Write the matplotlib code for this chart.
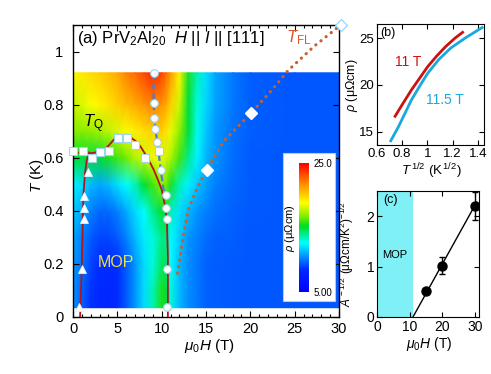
import numpy as np
import matplotlib
matplotlib.use('Agg')
import matplotlib.pyplot as plt
from matplotlib.colors import LinearSegmentedColormap
from matplotlib.patches import Rectangle

plt.rcParams['font.family'] = ['Liberation Sans', 'DejaVu Sans']
plt.rcParams['mathtext.fontset'] = 'custom'
plt.rcParams['mathtext.rm'] = 'Liberation Sans'
plt.rcParams['mathtext.it'] = 'Liberation Sans:italic'
plt.rcParams['mathtext.bf'] = 'Liberation Sans:bold'

# ---------------- data: panel (a) -----------------
field_grid = [0, 1, 2, 3, 4, 5, 6, 7, 8, 9, 10, 10.5, 11, 12, 13, 14, 15, 16, 18, 20, 25, 30]
temp_grid = [0.035, 0.1, 0.2, 0.3, 0.4, 0.5, 0.6, 0.7, 0.8, 0.92]
rho_grid = [
    [10.6, 9.6, 8.6, 8.3, 8.3, 8.5, 9.4, 10.6, 11.9, 13.5, 15.5, 15.0, 13.0, 11.3, 10.4, 10.0, 9.6, 9.5, 9.4, 9.3, 9.3, 9.3],
    [10.6, 9.6, 8.6, 8.3, 8.3, 8.5, 9.4, 10.6, 11.9, 13.5, 15.5, 15.0, 13.0, 11.3, 10.4, 10.0, 9.6, 9.5, 9.4, 9.3, 9.3, 9.3],
    [10.6, 10.0, 9.0, 8.5, 8.5, 8.5, 9.4, 10.6, 11.9, 13.0, 14.5, 14.5, 12.6, 11.3, 10.4, 10.0, 9.6, 9.5, 9.4, 9.3, 9.3, 9.3],
    [11.0, 10.2, 9.4, 9.0, 9.0, 9.4, 10.2, 11.3, 12.2, 13.0, 14.0, 14.0, 12.6, 11.6, 10.6, 10.2, 9.8, 9.6, 9.5, 9.3, 9.3, 9.3],
    [11.6, 11.0, 10.2, 9.7, 9.7, 10.2, 11.0, 11.9, 12.6, 14.0, 15.0, 15.0, 13.5, 12.0, 11.3, 10.6, 10.2, 9.9, 9.6, 9.4, 9.3, 9.3],
    [12.4, 12.0, 11.3, 11.0, 11.3, 12.0, 12.6, 13.5, 15.0, 16.0, 17.0, 16.5, 15.5, 13.5, 12.4, 11.5, 10.8, 10.2, 9.7, 9.4, 9.3, 9.3],
    [15.0, 15.0, 15.0, 15.0, 15.5, 16.0, 16.5, 17.5, 18.0, 18.5, 18.5, 18.0, 17.5, 16.0, 14.0, 12.4, 11.2, 10.6, 9.8, 9.4, 9.3, 9.3],
    [16.8, 16.8, 17.0, 17.3, 17.7, 18.2, 18.7, 19.2, 19.6, 20.0, 20.0, 19.5, 18.5, 17.0, 15.0, 12.8, 11.5, 10.7, 9.9, 9.5, 9.3, 9.3],
    [17.8, 18.2, 18.7, 19.1, 19.5, 20.0, 20.5, 21.0, 21.5, 22.0, 21.5, 21.0, 20.0, 18.0, 15.0, 13.0, 11.8, 10.9, 10.0, 9.5, 9.3, 9.3],
    [19.0, 19.3, 19.7, 20.0, 20.5, 21.0, 22.0, 22.5, 23.3, 24.0, 23.5, 22.5, 21.5, 19.0, 15.5, 13.5, 12.0, 11.0, 10.0, 9.5, 9.3, 9.3],
]

# phase boundary (red line), upper/right branch
bound_H = [0, 1, 2, 3, 3.5, 4.0, 4.6, 5.0, 5.5, 6.0, 6.6, 7.1, 7.6, 8.4, 9.1, 9.6, 10.0, 10.4, 10.6, 10.7, 10.7]
bound_T = [0.62, 0.617, 0.617, 0.622, 0.63, 0.645, 0.668, 0.678, 0.683, 0.681, 0.674, 0.662, 0.643, 0.60, 0.555, 0.515, 0.48, 0.416, 0.354, 0.227, 0.0]
# phase boundary, left branch
left_H = [1.8, 1.55, 1.36, 1.17, 1.1, 0.98, 0.8]
left_T = [0.62, 0.59, 0.543, 0.46, 0.354, 0.177, 0.0]

# squares (T_Q)
sq_H = [0.0, 1.1, 2.1, 3.1, 4.1, 5.1, 6.1, 7.0, 8.1, 9.65]
sq_T = [0.626, 0.626, 0.60, 0.62, 0.626, 0.674, 0.674, 0.649, 0.60, 0.624]
# circles
circ_H = [9.1, 9.1, 9.16, 9.3, 9.5, 9.9, 10.45, 10.5, 10.6, 10.55, 10.6]
circ_T = [0.92, 0.806, 0.75, 0.708, 0.66, 0.552, 0.458, 0.41, 0.369, 0.18, 0.037]
# blue dashed crossover line
dash_H = [9.1, 9.1, 9.16, 9.3, 9.5, 9.65, 9.9, 10.3]
dash_T = [0.92, 0.806, 0.75, 0.708, 0.66, 0.624, 0.552, 0.46]
# triangles
tri_H = [1.7, 1.25, 1.25, 1.25, 0.98, 0.72]
tri_T = [0.548, 0.457, 0.41, 0.37, 0.18, 0.037]
# T_FL dotted line
tfl_H = [11.8, 12.1, 12.5, 13.0, 14.0, 15.1, 17.0, 20.1, 22.3, 24.3, 27.2, 30.2]
tfl_T = [0.165, 0.228, 0.316, 0.404, 0.486, 0.555, 0.662, 0.769, 0.85, 0.93, 1.02, 1.10]
# diamonds
dia_H = [15.1, 20.1]
dia_T = [0.555, 0.769]
dia_open_H = [30.2]
dia_open_T = [1.10]

# ---------------- data: panel (b) -----------------
b11_x = [0.738, 0.80, 0.873, 0.94, 1.003, 1.075, 1.146, 1.22, 1.289]
b11_y = [16.54, 17.9, 19.46, 20.75, 21.96, 23.1, 24.1, 25.0, 25.7]
b115_x = [0.704, 0.77, 0.873, 0.94, 1.003, 1.09, 1.185, 1.30, 1.445]
b115_y = [13.92, 15.53, 18.39, 19.9, 21.25, 22.7, 23.93, 25.0, 26.2]

# ---------------- data: panel (c) -----------------
c_H = [15, 20, 30]
c_A = [0.52, 1.02, 2.2]
c_err = [0.04, 0.17, 0.28]
fit_H = [11.0, 30.5]
fit_A = [0.0, 2.28]
mop_edge = 11.0

# ---------------- figure -----------------
W, Hh = 491, 374
fig = plt.figure(figsize=(W / 100, Hh / 100), dpi=100)

def box(l, t, r, b):
    return [l / W, (Hh - b) / Hh, (r - l) / W, (b - t) / Hh]

cmap = LinearSegmentedColormap.from_list('rb', [
    (0.0, '#0000ff'), (0.17, '#0028ff'), (0.27, '#008cff'), (0.38, '#00ffff'),
    (0.51, '#00dc28'), (0.58, '#78eb00'), (0.69, '#ffff00'), (0.84, '#ff8c00'),
    (1.0, '#ff0000')])

ax = fig.add_axes(box(73, 25, 339, 317))
mesh = ax.pcolormesh(field_grid, temp_grid, np.array(rho_grid), cmap=cmap,
                     vmin=5, vmax=25, shading='gouraud', zorder=0)
ax.set_xlim(0, 30)
ax.set_ylim(0, 1.1)
ax.set_xticks([0, 5, 10, 15, 20, 25, 30])
ax.set_xticks(np.arange(0, 31, 1), minor=True)
ax.set_yticks([0, 0.2, 0.4, 0.6, 0.8, 1.0])
ax.set_yticklabels(['0', '0.2', '0.4', '0.6', '0.8', '1'])
ax.tick_params(which='both', direction='in', top=True, right=True, width=0.8, labelsize=10.5)
ax.tick_params(which='major', length=4)
ax.tick_params(which='minor', length=2)
ax.tick_params(axis='y', pad=7)
for s in ax.spines.values():
    s.set_linewidth(1.0)

ax.plot(tfl_H, tfl_T, color='#c8602a', lw=2.3, linestyle=(0, (0.05, 2.0)),
        dash_capstyle='round', zorder=3, clip_on=False)
ax.plot(dash_H, dash_T, color='#4a7fcf', lw=1.6, dashes=(3, 1.6), zorder=3)
ax.plot(bound_H, bound_T, color='#b3151b', lw=1.3, zorder=4)
ax.plot(left_H, left_T, color='#b3151b', lw=1.3, zorder=4)
ax.plot(sq_H, sq_T, 's', ms=6, mfc='white', mec='#9fd3ee', mew=0.8, zorder=5, clip_on=False)
ax.plot(circ_H, circ_T, 'o', ms=5.5, mfc='white', mec='#9fd3ee', mew=0.8, zorder=5)
ax.plot(tri_H, tri_T, '^', ms=5.5, mfc='white', mec='#e0f4ff', mew=0.6, zorder=5)
ax.plot(dia_H, dia_T, 'D', ms=6, mfc='white', mec='white', zorder=5)
ax.plot(dia_open_H, dia_open_T, 'D', ms=6, mfc='white', mec='#8fd0f5', mew=0.8,
        zorder=6, clip_on=False)

ax.text(0.015, 0.955, r'(a) PrV$_2$Al$_{20}$  $H$ || $I$ || [111]', transform=ax.transAxes,
        fontsize=12, va='center', ha='left')
ax.text(24.0, 1.035, r'$T_{\rm FL}$', color='#e05530', fontsize=12, ha='left', va='baseline')
ax.text(1.1, 0.713, r'$T_{\rm Q}$', color='black', fontsize=12, ha='left', va='baseline')
ax.text(4.8, 0.206, 'MOP', color='#f2e23a', fontsize=11.5, ha='center', va='center')

ax.add_patch(Rectangle(((283 - 73) / 266, (317 - 301) / 292), (335 - 283) / 266, (301 - 153) / 292,
                       transform=ax.transAxes, facecolor='white', edgecolor='#c8c8c8',
                       lw=0.8, zorder=7))
cax = fig.add_axes(box(299, 163, 309, 292))
cb = fig.colorbar(mesh, cax=cax, ticks=[5, 25])
cb.outline.set_visible(False)
cax.set_yticklabels(['5.00', '25.0'])
cax.tick_params(length=0, labelsize=7, pad=3)
fig.text(290 / W, 1 - 228 / Hh, r'$\rho$ (μΩcm)', rotation=90, fontsize=8, ha='center', va='center')

fig.text(37 / W, 1 - 176 / Hh, r'$T$ (K)', rotation=90, fontsize=11, ha='center', va='center')
fig.text(209 / W, 1 - 346 / Hh, r'$\mu_0H$ (T)', fontsize=11, ha='center', va='center')

# ---------------- panel (b) -----------------
axb = fig.add_axes(box(377, 24, 484, 145))
axb.plot(b11_x, b11_y, color='#cc1111', lw=2.0, solid_capstyle='butt')
axb.plot(b115_x, b115_y, color='#1aa8e0', lw=2.0, solid_capstyle='butt')
axb.set_xlim(0.6, 1.45)
axb.set_ylim(13.6, 26.5)
axb.set_xticks([0.6, 0.8, 1.0, 1.2, 1.4])
axb.set_xticklabels(['0.6', '0.8', '1', '1.2', '1.4'])
axb.set_yticks([15, 20, 25])
axb.tick_params(direction='in', top=True, right=True, length=3.5, width=0.8, labelsize=9.5)
axb.tick_params(axis='y', pad=2)
axb.tick_params(axis='x', pad=2.5)
axb.text(0.03, 0.925, '(b)', transform=axb.transAxes, fontsize=9, va='center', ha='left')
axb.text(0.29, 0.686, '11 T', transform=axb.transAxes, color='#cc1111', fontsize=10,
         ha='center', va='center')
axb.text(0.636, 0.372, '11.5 T', transform=axb.transAxes, color='#1aa8e0', fontsize=10,
         ha='center', va='center')
fig.text(431 / W, 1 - 171 / Hh, r'$T^{\,1/2}$ (K$^{\,1/2}$)', fontsize=9.5, ha='center', va='center')
fig.text(352 / W, 1 - 85 / Hh, r'$\rho$ (μΩcm)', rotation=90, fontsize=9, ha='center', va='center')

# ---------------- panel (c) -----------------
axc = fig.add_axes(box(377, 191, 479, 317))
axc.axvspan(0, mop_edge, color='#7ff0f5', lw=0, zorder=0)
axc.plot(fit_H, fit_A, color='black', lw=1.0, zorder=2)
axc.errorbar(c_H, c_A, yerr=c_err, fmt='o', ms=6.5, color='black', ecolor='black',
             elinewidth=1.0, capsize=2, zorder=3, clip_on=True)
axc.set_xlim(0, 31.2)
axc.set_ylim(0, 2.5)
axc.set_xticks([0, 10, 20, 30])
axc.set_yticks([0, 1, 2])
axc.tick_params(direction='in', top=True, right=True, length=3.5, width=0.8, labelsize=10)
axc.tick_params(axis='y', pad=2)
axc.tick_params(axis='x', pad=2)
axc.text(0.06, 0.93, '(c)', transform=axc.transAxes, fontsize=9, va='center', ha='left')
axc.text(5.3, 1.23, 'MOP', fontsize=8, ha='center', va='center')
fig.text(429 / W, 1 - 344 / Hh, r'$\mu_0H$ (T)', fontsize=10, ha='center', va='center')
fig.text(347 / W, 1 - 254 / Hh, r'$A^{\,-1/2}$ (μΩcm/K$^2$)$^{-1/2}$', rotation=90,
         fontsize=8.5, ha='center', va='center')

fig.savefig('out.png', dpi=100)
